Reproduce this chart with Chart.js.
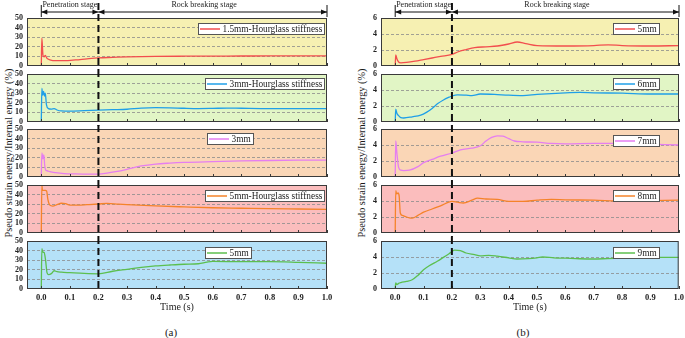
<!DOCTYPE html>
<html>
<head>
<meta charset="utf-8">
<script src="https://cdn.jsdelivr.net/npm/chart.js@4.4.1/dist/chart.umd.min.js"></script>
<style>
html, body { margin: 0; padding: 0; background: #fff; overflow: hidden; }
#figure { position: relative; width: 685px; height: 338px; font-family: 'Liberation Serif', serif; color: #1a1a1a; }
#figure canvas { position: absolute; }
.y-title { position: absolute; white-space: nowrap; font-size: 10.3px; color: #1a1a1a; transform: translate(-50%, -50%) rotate(-90deg); }
.caption { position: absolute; font-size: 11px; color: #1a1a1a; transform: translate(-50%, -50%); }
</style>
</head>
<body>
<div id="figure">
  <div class="y-title" style="left:8px;top:153px">Pseudo strain energy/Internal energy (%)</div>
  <div class="y-title" style="left:361px;top:153px">Pseudo strain energy/Internal energy (%)</div>
  <div class="caption" style="left:171px;top:332px">(a)</div>
  <div class="caption" style="left:523px;top:332px">(b)</div>
</div>
<script>
// ---- axes ----
const timeTicks = [0, 0.1, 0.2, 0.3, 0.4, 0.5, 0.6, 0.7, 0.8, 0.9, 1.0];
const energyTicksA = [0, 10, 20, 30, 40, 50];
const energyTicksB = [0, 2, 4, 6];
const stageBounds = [0, 0.2, 1.0];
const stageNames = ['Penetration stage', 'Rock breaking stage'];
const stageLabelAt = [0.1, 0.57];

// ---- panel (a) ----
const labelsA = ['1.5mm-Hourglass stiffness', '3mm-Hourglass stiffness', '3mm', '5mm-Hourglass stiffness', '5mm'];

const timeA1 = [0, 0.002, 0.006, 0.01, 0.014, 0.02, 0.03, 0.05, 0.08, 0.12, 0.16, 0.2, 0.25, 0.3, 0.4, 0.5, 0.6, 0.7, 0.8, 0.9, 1.0];
const energyA1 = [0, 29, 11, 9.5, 11, 8, 6.5, 5.5, 5.5, 6.3, 7.5, 8.5, 9, 9.5, 10, 10.2, 10.3, 10.4, 10.5, 10.5, 10.5];

const timeA2 = [0, 0.002, 0.005, 0.008, 0.011, 0.014, 0.018, 0.025, 0.035, 0.045, 0.055, 0.07, 0.1, 0.15, 0.2, 0.25, 0.3, 0.35, 0.4, 0.45, 0.5, 0.55, 0.6, 0.65, 0.7, 0.8, 0.9, 1.0];
const energyA2 = [0, 35, 28, 32, 27, 30, 18, 14, 13.5, 14, 12.5, 11.5, 11.3, 11.8, 12.3, 12.8, 13.3, 14.5, 15, 14.8, 14.3, 14, 14.2, 14.5, 14.3, 14, 14, 14];

const timeA3 = [0, 0.002, 0.006, 0.009, 0.012, 0.016, 0.02, 0.03, 0.05, 0.08, 0.12, 0.16, 0.2, 0.23, 0.26, 0.3, 0.35, 0.4, 0.45, 0.5, 0.6, 0.7, 0.8, 0.9, 1.0];
const energyA3 = [0, 25, 19, 23, 12, 7, 6.5, 5.5, 4.5, 3.6, 3.2, 3, 3, 4, 5.5, 8, 11.5, 13.5, 14.5, 15.2, 16, 16.7, 17.2, 17.5, 17.6];

const timeA4 = [0, 0.002, 0.004, 0.008, 0.014, 0.019, 0.023, 0.03, 0.04, 0.055, 0.07, 0.085, 0.1, 0.13, 0.16, 0.2, 0.23, 0.27, 0.3, 0.4, 0.5, 0.6, 0.7, 0.8, 0.9, 1.0];
const energyA4 = [0, 50, 44.5, 44.5, 44.5, 43.5, 35, 29, 28, 29.5, 31, 30.5, 29, 29, 29.5, 30.2, 30.8, 30, 29.5, 28.2, 27.2, 26.3, 25.8, 25.3, 25, 24.7];

const timeA5 = [0, 0.002, 0.005, 0.01, 0.015, 0.02, 0.025, 0.035, 0.045, 0.055, 0.07, 0.1, 0.15, 0.2, 0.25, 0.3, 0.35, 0.4, 0.45, 0.5, 0.55, 0.58, 0.6, 0.7, 0.8, 0.9, 1.0];
const energyA5 = [0, 42, 38.5, 38, 30, 17, 15, 16, 19, 18, 17.5, 17, 16.2, 15.8, 18.5, 20.5, 22.5, 24, 25, 25.8, 26.3, 28, 28.7, 28.5, 28.5, 27.8, 26.8];

// ---- panel (b) ----
const labelsB = ['5mm', '6mm', '7mm', '8mm', '9mm'];

const timeB1 = [0, 0.002, 0.006, 0.012, 0.02, 0.04, 0.07, 0.1, 0.13, 0.16, 0.2, 0.22, 0.25, 0.28, 0.32, 0.36, 0.4, 0.43, 0.46, 0.5, 0.6, 0.7, 0.75, 0.8, 0.9, 1.0];
const energyB1 = [0, 1.4, 0.9, 0.5, 0.4, 0.45, 0.6, 0.8, 1.0, 1.2, 1.45, 1.75, 2.05, 2.3, 2.4, 2.5, 2.75, 3.0, 2.8, 2.55, 2.5, 2.55, 2.65, 2.55, 2.5, 2.55];

const timeB2 = [0, 0.002, 0.006, 0.012, 0.02, 0.03, 0.06, 0.09, 0.11, 0.13, 0.15, 0.17, 0.19, 0.2, 0.22, 0.25, 0.27, 0.3, 0.35, 0.4, 0.45, 0.5, 0.6, 0.65, 0.7, 0.8, 0.9, 1.0];
const energyB2 = [0, 1.6, 1.1, 0.8, 0.55, 0.5, 0.65, 0.85, 1.2, 1.7, 2.3, 2.75, 3.1, 3.25, 3.4, 3.35, 3.3, 3.5, 3.45, 3.35, 3.3, 3.45, 3.65, 3.7, 3.65, 3.6, 3.5, 3.5];

const timeB3 = [0, 0.002, 0.006, 0.012, 0.02, 0.03, 0.05, 0.08, 0.1, 0.13, 0.16, 0.2, 0.23, 0.27, 0.3, 0.32, 0.34, 0.36, 0.38, 0.4, 0.42, 0.45, 0.5, 0.55, 0.6, 0.7, 0.8, 0.9, 1.0];
const energyB3 = [0, 4.5, 3.0, 1.2, 0.85, 0.8, 0.85, 1.3, 1.8, 2.2, 2.6, 3.0, 3.4, 3.6, 3.9, 4.5, 4.95, 5.15, 5.1, 4.8, 4.5, 4.4, 4.35, 4.2, 4.15, 4.2, 4.2, 4.1, 4.0];

const timeB4 = [0, 0.002, 0.005, 0.01, 0.014, 0.018, 0.025, 0.04, 0.05, 0.06, 0.08, 0.1, 0.13, 0.16, 0.2, 0.22, 0.24, 0.27, 0.29, 0.32, 0.36, 0.4, 0.45, 0.5, 0.55, 0.6, 0.7, 0.8, 0.9, 1.0];
const energyB4 = [0, 5.3, 4.9, 5.0, 4.6, 2.5, 2.2, 2.0, 1.9, 1.85, 2.2, 2.6, 3.0, 3.4, 3.95, 3.85, 3.75, 4.1, 4.35, 4.25, 4.2, 3.95, 3.95, 4.1, 4.2, 4.15, 4.1, 4.0, 4.05, 4.1];

const timeB5 = [0, 0.002, 0.006, 0.012, 0.02, 0.04, 0.06, 0.08, 0.1, 0.12, 0.15, 0.17, 0.19, 0.21, 0.23, 0.25, 0.28, 0.3, 0.33, 0.36, 0.4, 0.43, 0.47, 0.5, 0.52, 0.56, 0.6, 0.65, 0.7, 0.75, 0.8, 0.85, 0.9, 1.0];
const energyB5 = [0, 0.75, 0.55, 0.7, 0.8, 0.95, 1.15, 1.7, 2.4, 2.9, 3.5, 3.95, 4.4, 4.85, 4.8, 4.5, 4.3, 4.15, 4.2, 4.1, 3.9, 3.75, 3.8, 3.9, 4.0, 3.9, 3.85, 3.78, 3.75, 3.8, 3.85, 3.9, 3.95, 3.95];

// ---- styling ----
const lineColors = ['#f24e4e', '#1f9fe8', '#e57ef0', '#f5832a', '#5cbf4f'];
const rowFills = ['#f6f0b2', '#e1f5c5', '#fad6b6', '#fbbdbd', '#b5e1f8'];
const FONT = "'Liberation Serif', serif";

const panels = {
    a: {
        left: 0, width: 340, padLeft: 7, padRight: 13,
        ticks: energyTicksA, labels: labelsA,
        series: [[timeA1, energyA1], [timeA2, energyA2], [timeA3, energyA3], [timeA4, energyA4], [timeA5, energyA5]],
        legendX: [171, 178, 180, 178, 178], legendY: [5, 4, 4, 5, 6]
    },
    b: {
        left: 340, width: 348, padLeft: 21, padRight: 9,
        ticks: energyTicksB, labels: labelsB,
        series: [[timeB1, energyB1], [timeB2, energyB2], [timeB3, energyB3], [timeB4, energyB4], [timeB5, energyB5]],
        legendX: [232, 232, 232, 232, 232], legendY: [5, 4, 6, 5, 6]
    }
};

// background, frame, inward ticks, stage line, legend box and stage arrows
const stageFrame = {
    id: 'stageFrame',
    beforeDraw(chart, args, opts) {
        const { ctx, chartArea: a } = chart;
        ctx.save();
        ctx.fillStyle = opts.fill;
        ctx.fillRect(a.left, a.top, a.right - a.left, a.bottom - a.top);
        ctx.restore();
    },
    afterDraw(chart, args, opts) {
        const { ctx, chartArea: a } = chart;
        const x = chart.scales.x;
        ctx.save();

        ctx.strokeStyle = '#3a3a3a';
        ctx.lineWidth = 1;
        ctx.strokeRect(a.left + 0.5, a.top + 0.5, a.right - a.left - 1, a.bottom - a.top - 1);
        ctx.beginPath();
        timeTicks.forEach(v => {
            const px = Math.round(x.getPixelForValue(v)) + 0.5;
            ctx.moveTo(px, a.bottom);
            ctx.lineTo(px, a.bottom - 3);
        });
        ctx.stroke();

        const xb = x.getPixelForValue(stageBounds[1]);
        ctx.setLineDash([7, 4]);
        ctx.lineWidth = 2;
        ctx.strokeStyle = '#111';
        ctx.beginPath();
        ctx.moveTo(xb, a.top - opts.bandTop);
        ctx.lineTo(xb, a.bottom + opts.bandBottom);
        ctx.stroke();
        ctx.setLineDash([]);

        this.drawLegend(chart, opts);
        if (opts.stages) this.drawStages(chart);
        ctx.restore();
    },
    drawLegend(chart, opts) {
        const { ctx, chartArea: a } = chart;
        const ds = chart.data.datasets[0];
        ctx.font = `9.3px ${FONT}`;
        const tw = ctx.measureText(ds.label).width;
        const lx = Math.round(a.left + opts.legendX);
        const ly = Math.round(a.top + opts.legendY);
        const w = Math.round(26.5 + tw), h = 11;
        ctx.fillStyle = '#fff';
        ctx.fillRect(lx, ly, w, h);
        ctx.strokeStyle = '#555';
        ctx.lineWidth = 1;
        ctx.strokeRect(lx + 0.5, ly + 0.5, w, h);
        ctx.strokeStyle = ds.borderColor;
        ctx.lineWidth = 1.5;
        ctx.beginPath();
        ctx.moveTo(lx + 2, ly + h / 2 + 0.5);
        ctx.lineTo(lx + 22, ly + h / 2 + 0.5);
        ctx.stroke();
        ctx.fillStyle = '#222';
        ctx.textBaseline = 'middle';
        ctx.textAlign = 'left';
        ctx.fillText(ds.label, lx + 24.5, ly + h / 2 + 1);
    },
    drawStages(chart) {
        const { ctx, chartArea: a } = chart;
        const x = chart.scales.x;
        const px = stageBounds.map(v => x.getPixelForValue(v));
        const y = a.top - 6;
        ctx.strokeStyle = '#111';
        ctx.fillStyle = '#111';
        ctx.lineWidth = 1;
        ctx.beginPath();
        [px[0], px[2]].forEach(p => { ctx.moveTo(p, a.top - 13); ctx.lineTo(p, a.top - 1); });
        ctx.moveTo(px[0], y);
        ctx.lineTo(px[2], y);
        ctx.stroke();
        const head = (tip, dir) => {
            ctx.beginPath();
            ctx.moveTo(tip, y);
            ctx.lineTo(tip + dir * 6, y - 2.5);
            ctx.lineTo(tip + dir * 6, y + 2.5);
            ctx.closePath();
            ctx.fill();
        };
        head(px[0], 1); head(px[1], -1); head(px[1], 1); head(px[2], -1);
        ctx.font = `8px ${FONT}`;
        ctx.textAlign = 'center';
        ctx.textBaseline = 'middle';
        ctx.fillStyle = '#222';
        stageNames.forEach((name, i) => ctx.fillText(name, x.getPixelForValue(stageLabelAt[i]), a.top - 13));
    }
};

class StrainEnergyFigure {
    constructor() {
        this.charts = new Map();
        this.rowTops = [18, 74, 129, 185, 241];
        this.rowHeight = 48;
        this.init();
    }

    init() {
        Chart.register(stageFrame);
        Object.keys(panels).forEach(key => this.buildPanel(key, panels[key]));
    }

    buildPanel(key, panel) {
        panel.series.forEach((pair, i) => {
            const first = i === 0, last = i === panel.series.length - 1;
            const padTop = first ? 18 : 12;
            const padBottom = last ? 2 : 12;
            const axisH = last ? 32 : 0;
            const canvas = document.createElement('canvas');
            canvas.width = panel.width;
            canvas.height = padTop + this.rowHeight + axisH + padBottom;
            canvas.style.left = panel.left + 'px';
            canvas.style.top = (this.rowTops[i] - padTop) + 'px';
            document.getElementById('figure').appendChild(canvas);

            const [times, values] = pair;
            this.charts.set(key + i, new Chart(canvas, {
                type: 'line',
                data: {
                    datasets: [{
                        label: panel.labels[i],
                        data: times.map((t, k) => ({ x: t, y: values[k] })),
                        borderColor: lineColors[i],
                        borderWidth: 1.3,
                        pointRadius: 0,
                        cubicInterpolationMode: 'monotone',
                        fill: false
                    }]
                },
                options: this.getOptions(panel, i, { padTop, padBottom, axisH, first, last })
            }));
        });
    }

    getOptions(panel, i, { padTop, padBottom, axisH, first, last }) {
        const yMax = panel.ticks[panel.ticks.length - 1];
        return {
            responsive: false,
            animation: false,
            devicePixelRatio: 1,
            layout: { padding: { top: padTop, bottom: padBottom, left: panel.padLeft, right: panel.padRight } },
            plugins: {
                legend: { display: false },
                tooltip: { enabled: false },
                stageFrame: {
                    fill: rowFills[i],
                    bandTop: first ? 15 : 4,
                    bandBottom: last ? 0 : 4,
                    stages: first,
                    legendX: panel.legendX[i],
                    legendY: panel.legendY[i]
                }
            },
            scales: {
                x: {
                    type: 'linear',
                    min: -0.05,
                    max: 1.0,
                    display: last,
                    afterBuildTicks: s => { s.ticks = timeTicks.map(v => ({ value: v })); },
                    afterFit: s => { s.height = axisH; },
                    grid: { display: false, drawTicks: false },
                    border: { display: false },
                    ticks: {
                        autoSkip: false,
                        maxRotation: 0,
                        padding: 4,
                        color: '#222',
                        font: { family: FONT, size: 8.5, weight: 'bold' },
                        callback: v => v.toFixed(1)
                    },
                    title: {
                        display: true,
                        text: 'Time (s)',
                        color: '#222',
                        font: { family: FONT, size: 10 },
                        padding: { top: 0, bottom: 8 }
                    }
                },
                y: {
                    min: 0,
                    max: yMax,
                    afterBuildTicks: s => { s.ticks = panel.ticks.map(v => ({ value: v })); },
                    afterFit: s => { s.width = 20; },
                    grid: {
                        drawTicks: false,
                        lineWidth: 0.8,
                        color: c => (c.tick && c.tick.value > 0 && c.tick.value < yMax) ? '#8c8c8c' : 'rgba(0,0,0,0)'
                    },
                    border: { display: false, dash: [3, 2] },
                    ticks: {
                        autoSkip: false,
                        padding: 4,
                        color: '#222',
                        font: { family: FONT, size: 8, weight: 'bold' }
                    }
                }
            }
        };
    }
}

new StrainEnergyFigure();
</script>
</body>
</html>
